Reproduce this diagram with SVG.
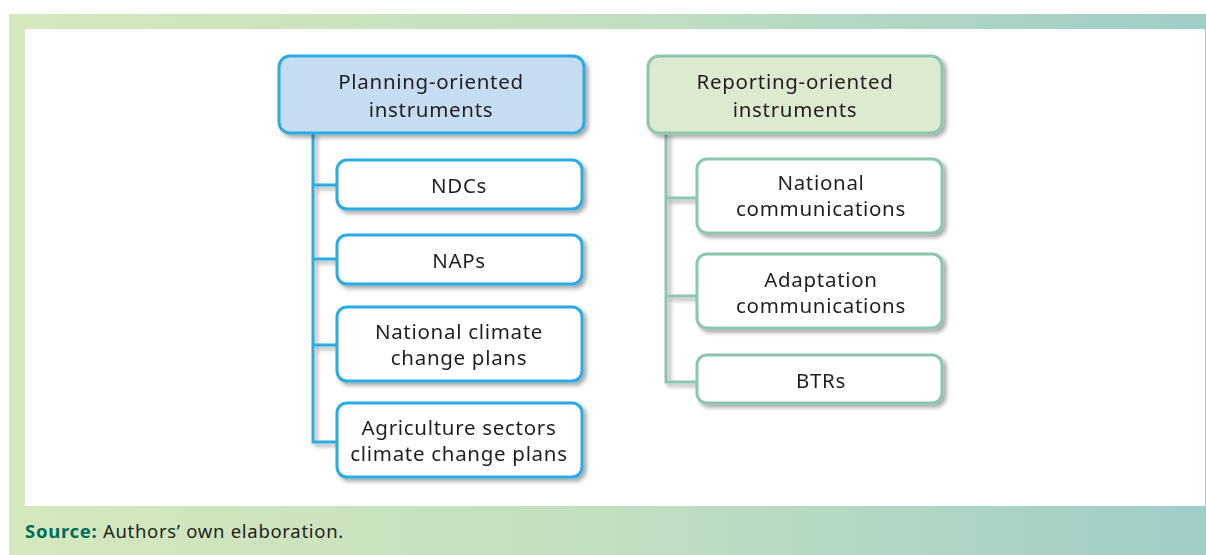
<svg xmlns="http://www.w3.org/2000/svg" width="1206" height="555" viewBox="0 0 1206 555">
<defs>
<linearGradient id="bg" x1="0" y1="0" x2="1" y2="0">
<stop offset="0" stop-color="#d5e8bd"/>
<stop offset="0.5" stop-color="#c2dfc0"/>
<stop offset="1" stop-color="#9fcdc7"/>
</linearGradient>
<filter id="sh" x="-10%" y="-10%" width="130%" height="140%">
<feDropShadow dx="3" dy="3" stdDeviation="2" flood-color="#000" flood-opacity="0.35"/>
</filter>
<style>
.t{font-family:"Noto Sans","Liberation Sans",sans-serif;font-size:20.5px;letter-spacing:0.7px;fill:#231f20;text-anchor:middle}
.pb{fill:#ffffff;stroke:#29abe2;stroke-width:3}
.ph{fill:#c6ddf1;stroke:#29abe2;stroke-width:3}
.rb{fill:#ffffff;stroke:#8cc6ae;stroke-width:3}
.rh{fill:#dcebcf;stroke:#8cc6ae;stroke-width:3}
.pl{fill:none;stroke:#29abe2;stroke-width:3}
.rl{fill:none;stroke:#8cc6ae;stroke-width:3}
</style>
</defs>
<rect x="9" y="14" width="1197" height="541" fill="url(#bg)"/>
<rect x="25" y="29" width="1180" height="477" fill="#ffffff"/>
<g id="connectors" filter="url(#sh)">
<path class="pl" d="M313,133 V442 H337 M313,185 H337 M313,259 H337 M313,345 H337"/>
<path class="rl" d="M666,133 V382 H697 M666,198 H697 M666,296 H697"/>
</g>
<g id="planning" filter="url(#sh)">
<rect class="ph" x="279" y="56" width="305" height="77" rx="11"/>
<text class="t" x="431" y="89">Planning-oriented</text>
<text class="t" x="431" y="117">instruments</text>
</g>
<g id="ndcs" filter="url(#sh)">
<rect class="pb" x="337" y="160" width="245" height="49" rx="10"/>
<text class="t" x="459" y="193">NDCs</text>
</g>
<g id="naps" filter="url(#sh)">
<rect class="pb" x="337" y="235" width="245" height="49" rx="10"/>
<text class="t" x="459" y="268">NAPs</text>
</g>
<g id="nccp" filter="url(#sh)">
<rect class="pb" x="337" y="307" width="245" height="74" rx="10"/>
<text class="t" x="459" y="339">National climate</text>
<text class="t" x="459" y="365">change plans</text>
</g>
<g id="agri" filter="url(#sh)">
<rect class="pb" x="337" y="403" width="245" height="74" rx="10"/>
<text class="t" x="459" y="435">Agriculture sectors</text>
<text class="t" x="459" y="461">climate change plans</text>
</g>
<g id="reporting" filter="url(#sh)">
<rect class="rh" x="648" y="56" width="294" height="77" rx="11"/>
<text class="t" x="795" y="89">Reporting-oriented</text>
<text class="t" x="795" y="117">instruments</text>
</g>
<g id="natcom" filter="url(#sh)">
<rect class="rb" x="697" y="159" width="245" height="74" rx="10"/>
<text class="t" x="821" y="190">National</text>
<text class="t" x="821" y="216">communications</text>
</g>
<g id="adapt" filter="url(#sh)">
<rect class="rb" x="697" y="254" width="245" height="74" rx="10"/>
<text class="t" x="821" y="287">Adaptation</text>
<text class="t" x="821" y="313">communications</text>
</g>
<g id="btrs" filter="url(#sh)">
<rect class="rb" x="697" y="355" width="245" height="48" rx="10"/>
<text class="t" x="821" y="388">BTRs</text>
</g>
<text x="25" y="538" style="font-family:'Noto Sans','Liberation Sans',sans-serif;font-size:18.5px;letter-spacing:0.7px;fill:#231f20"><tspan font-weight="bold" fill="#006b5f">Source:</tspan> Authors’ own elaboration.</text>
</svg>
